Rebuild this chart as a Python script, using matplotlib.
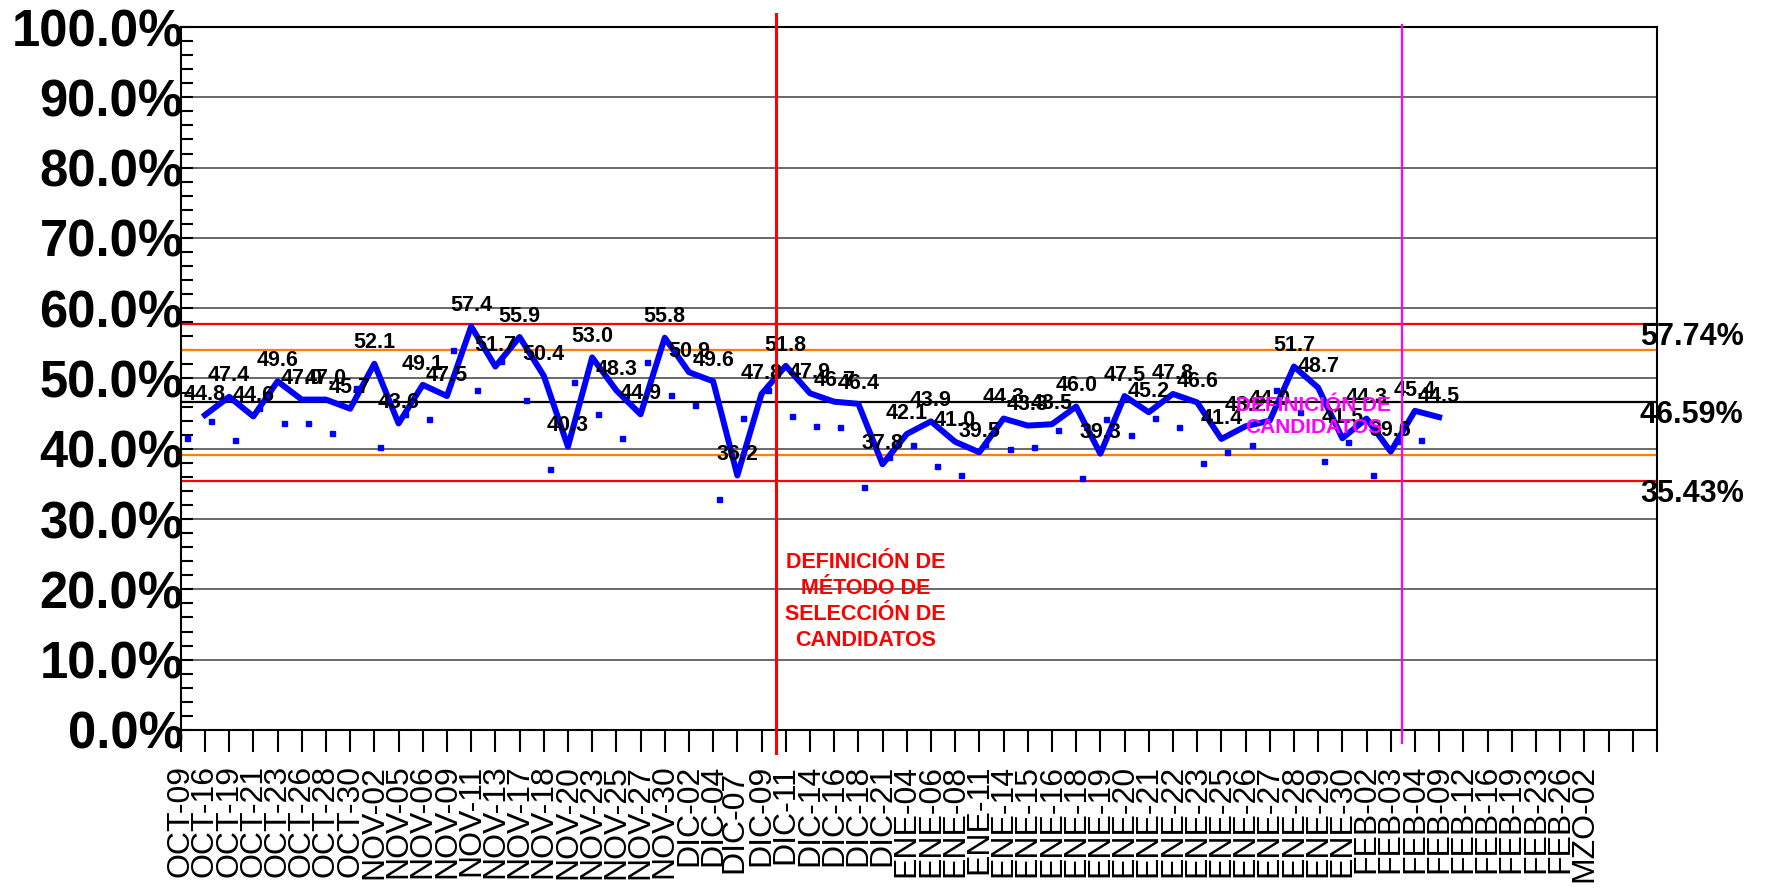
import matplotlib
matplotlib.use("Agg")
import matplotlib.pyplot as plt
from matplotlib.ticker import MultipleLocator, FuncFormatter

plt.rcParams['font.family'] = ['Liberation Sans', 'DejaVu Sans']

# Fechas de cada muestreo (eje X)
fechas = ["OCT-09", "OCT-16", "OCT-19", "OCT-21", "OCT-23", "OCT-26", "OCT-28", "OCT-30",
          "NOV-02", "NOV-05", "NOV-06", "NOV-09", "NOV-11", "NOV-13", "NOV-17", "NOV-18",
          "NOV-20", "NOV-23", "NOV-25", "NOV-27", "NOV-30",
          "DIC-02", "DIC-04", "DIC-07 ", "DIC-09", "DIC-11", "DIC-14", "DIC-16", "DIC-18", "DIC-21",
          "ENE-04", "ENE-06", "ENE-08", "ENE-11", "ENE-14", "ENE-15", "ENE-16", "ENE-18", "ENE-19",
          "ENE-20", "ENE-21", "ENE-22", "ENE-23", "ENE-25", "ENE-26", "ENE-27", "ENE-28", "ENE-29",
          "ENE-30", "FEB-02", "FEB-03", "FEB-04", "FEB-09", "FEB-12", "FEB-16", "FEB-19", "FEB-23",
          "FEB-26", "MZO-02"]

# Porcentaje por muestreo (linea azul)
porcentaje = [44.8, 47.4, 44.6, 49.6, 47.0, 47.0, 45.7, 52.1, 43.6, 49.1,
              47.5, 57.4, 51.7, 55.9, 50.4, 40.3, 53.0, 48.3, 44.9, 55.8,
              50.9, 49.6, 36.2, 47.8, 51.8, 47.9, 46.7, 46.4, 37.8, 42.1,
              43.9, 41.0, 39.5, 44.3, 43.3, 43.5, 46.0, 39.3, 47.5, 45.2,
              47.8, 46.6, 41.4, 43.2, 44.0, 51.7, 48.7, 41.5, 44.3, 39.6,
              45.4, 44.5]

# Serie secundaria (puntos)
puntos = [41.5, 44.0, 41.3, 45.85, 43.6, 43.6, 42.3, 48.7, 40.2, 45.0,
          44.2, 54.0, 48.3, 52.5, 47.0, 37.1, 49.5, 45.0, 41.6, 52.4,
          47.6, 46.3, 32.8, 44.4, 48.4, 44.6, 43.2, 43.1, 34.5, 38.8,
          40.5, 37.6, 36.2, 40.7, 39.9, 40.2, 42.7, 35.9, 44.2, 41.9,
          44.4, 43.1, 38.0, 39.6, 40.6, 48.4, 45.3, 38.2, 40.9, 36.2,
          41.05, 41.2]

# Limites de control
lsc, media, lic = 57.74, 46.59, 35.43
sup_2s, inf_2s = 54.02, 39.16

fig = plt.figure(figsize=(17.67, 8.89), dpi=100)
ax = fig.add_axes([0.1023, 0.1789, 0.8354, 0.7907])

ax.set_xlim(0, 61)
ax.set_ylim(0, 100)

# rejilla horizontal cada 10%
for g in range(10, 100, 10):
    ax.axhline(g, color='#404040', lw=1.1, zorder=1)

ax.axhline(lsc, color='#FF0000', lw=1.6, zorder=2)
ax.axhline(lic, color='#FF0000', lw=1.6, zorder=2)
ax.axhline(sup_2s, color='#FF7F00', lw=1.6, zorder=2)
ax.axhline(inf_2s, color='#FF7F00', lw=1.6, zorder=2)
ax.axhline(media, color='black', lw=1.6, zorder=2)

x_linea = [i + 1 for i in range(len(porcentaje))]
x_puntos = [i + 0.25 for i in range(len(puntos))]

ax.plot(x_puntos, puntos, 's', color='#0000FF', markersize=3.6, zorder=6)
ax.plot(x_linea, porcentaje, color='#0000FF', lw=4.3, zorder=4)

for x, v in zip(x_linea, porcentaje):
    ax.annotate(f"{v:.1f}", (x, v), xytext=(0, 11), textcoords='offset points',
                ha='center', va='baseline', fontsize=15.5, fontweight='bold', zorder=5)

# lineas verticales de eventos
ax.axvline(24.6, ymin=-0.033, ymax=1.018, color='#FF0000', lw=2.2, clip_on=False, zorder=7)
ax.axvline(50.45, ymin=-0.018, ymax=1.003, color='#FF00FF', lw=1.6, clip_on=False, zorder=7)

ax.text(28.3, 18.3, "DEFINICIÓN DE\nMÉTODO DE\nSELECCIÓN DE\nCANDIDATOS", color='#FF0000',
        ha='center', va='center', fontsize=15.5, fontweight='bold', linespacing=1.3, zorder=8)
ax.text(46.8, 44.6, "DEFINICIÓN DE\nCANDIDATOS", color='#FF00FF',
        ha='center', va='center', fontsize=15, fontweight='bold', linespacing=1.15, zorder=8)

# etiquetas de los limites a la derecha
for v in (lsc, media, lic):
    ax.text(60.3, v - 1.8, f"{v:.2f}%", ha='left', va='center', fontsize=22,
            fontweight='bold', clip_on=False, zorder=8)

# ejes
ax.yaxis.set_major_locator(MultipleLocator(10))
ax.yaxis.set_minor_locator(MultipleLocator(2))
ax.yaxis.set_major_formatter(FuncFormatter(lambda v, p: f"{v:.1f}%"))
ax.tick_params(axis='y', which='both', direction='in', length=8.6, width=1.5, pad=-2)
ax.tick_params(axis='y', which='major', labelsize=36.5)
for lab in ax.get_yticklabels():
    lab.set_fontweight('bold')

ax.set_xticks(range(0, 62))
ax.set_xticklabels(fechas + [""] * (62 - len(fechas)), rotation=90, fontsize=23, va='top')
ax.tick_params(axis='x', direction='out', length=16, width=1.5, pad=9)

for s in ax.spines.values():
    s.set_linewidth(1.5)

fig.savefig("out.png", dpi=100)
